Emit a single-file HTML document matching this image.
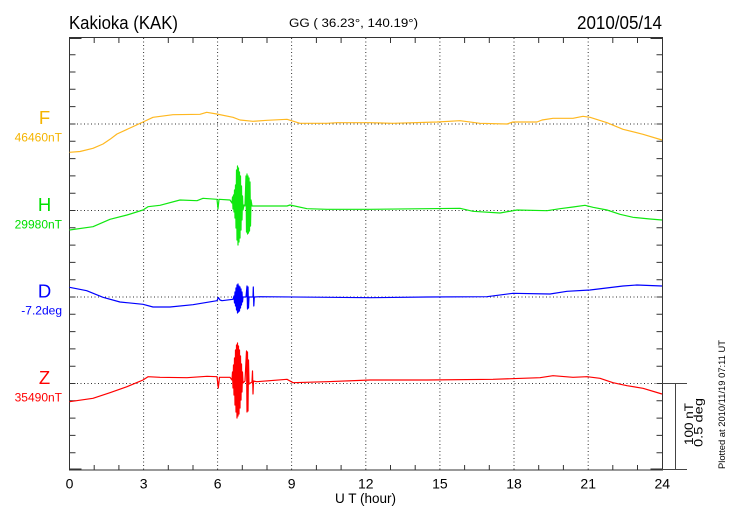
<!DOCTYPE html>
<html>
<head>
<meta charset="utf-8">
<style>
html,body{margin:0;padding:0;background:#fff;}
svg{display:block;}
text{font-family:"Liberation Sans",Arial,sans-serif;}
</style>
</head>
<body>
<svg width="730" height="520" viewBox="0 0 730 520" xmlns="http://www.w3.org/2000/svg">
<rect width="730" height="520" fill="#fff"/>

<!-- Titles -->
<text x="69" y="29" font-size="18" textLength="109" lengthAdjust="spacingAndGlyphs" fill="#000">Kakioka (KAK)</text>
<text x="289" y="27" font-size="11.5" textLength="129" lengthAdjust="spacingAndGlyphs" fill="#000">GG ( 36.23°, 140.19°)</text>
<text x="577" y="29" font-size="18" textLength="85" lengthAdjust="spacingAndGlyphs" fill="#000">2010/05/14</text>

<!-- Vertical dotted grid -->
<g stroke="#333" stroke-width="1" stroke-dasharray="1,2.5">
<line x1="143.6" y1="38" x2="143.6" y2="470"/>
<line x1="217.6" y1="38" x2="217.6" y2="470"/>
<line x1="291.6" y1="38" x2="291.6" y2="470"/>
<line x1="365.8" y1="38" x2="365.8" y2="470"/>
<line x1="439.9" y1="38" x2="439.9" y2="470"/>
<line x1="514.0" y1="38" x2="514.0" y2="470"/>
<line x1="588.2" y1="38" x2="588.2" y2="470"/>
</g>
<!-- Horizontal dotted baselines -->
<g stroke="#333" stroke-width="1" stroke-dasharray="1,2.5">
<line x1="70" y1="124" x2="662" y2="124"/>
<line x1="70" y1="210.5" x2="662" y2="210.5"/>
<line x1="70" y1="297" x2="662" y2="297"/>
<line x1="70" y1="383.5" x2="662" y2="383.5"/>
</g>

<!-- Axes frame -->
<g stroke="#333" stroke-width="1" fill="none">
<rect x="69.5" y="37.5" width="593" height="432.5"/>
<line x1="69.5" y1="38" x2="81.5" y2="38" stroke-width="2"/>
<line x1="650.5" y1="38" x2="662.5" y2="38" stroke-width="2"/>
<line x1="69.5" y1="469.5" x2="81.5" y2="469.5" stroke-width="2"/>
<line x1="650.5" y1="469.5" x2="662.5" y2="469.5" stroke-width="2"/>
</g>

<!-- Y ticks left & right -->
<g stroke="#333" stroke-width="1">
<path d="M69.5 54.7h6M69.5 72h6M69.5 89.3h6M69.5 106.6h6M69.5 124h6M69.5 141.3h6M69.5 158.6h6M69.5 175.9h6M69.5 193.2h6M69.5 210.5h6M69.5 227.8h6M69.5 245.1h6M69.5 262.4h6M69.5 279.7h6M69.5 297h6M69.5 314.3h6M69.5 331.6h6M69.5 348.9h6M69.5 366.2h6M69.5 383.5h6M69.5 400.8h6M69.5 418.1h6M69.5 435.4h6M69.5 452.7h6"/>
<path d="M662.5 54.7h-6M662.5 72h-6M662.5 89.3h-6M662.5 106.6h-6M662.5 124h-6M662.5 141.3h-6M662.5 158.6h-6M662.5 175.9h-6M662.5 193.2h-6M662.5 210.5h-6M662.5 227.8h-6M662.5 245.1h-6M662.5 262.4h-6M662.5 279.7h-6M662.5 297h-6M662.5 314.3h-6M662.5 331.6h-6M662.5 348.9h-6M662.5 366.2h-6M662.5 383.5h-6M662.5 400.8h-6M662.5 418.1h-6M662.5 435.4h-6M662.5 452.7h-6"/>
<!-- X ticks top & bottom (hourly) -->
<path d="M94.2 38v5M118.9 38v5M168.3 38v5M193 38v5M242.3 38v5M267 38v5M316.4 38v5M341.1 38v5M390.5 38v5M415.2 38v5M464.6 38v5M489.3 38v5M538.7 38v5M563.4 38v5M612.8 38v5M637.5 38v5"/>
<path d="M94.2 470v-5M118.9 470v-5M168.3 470v-5M193 470v-5M242.3 470v-5M267 470v-5M316.4 470v-5M341.1 470v-5M390.5 470v-5M415.2 470v-5M464.6 470v-5M489.3 470v-5M538.7 470v-5M563.4 470v-5M612.8 470v-5M637.5 470v-5"/>
</g>

<!-- Scale bar -->
<g stroke="#444" stroke-width="1">
<line x1="662" y1="383.5" x2="687" y2="383.5"/>
<line x1="662" y1="469.5" x2="687" y2="469.5"/>
<line x1="675.5" y1="383.5" x2="675.5" y2="469.5"/>
</g>
<text transform="translate(692.8,445) rotate(-90)" font-size="11.5" textLength="42" lengthAdjust="spacingAndGlyphs" fill="#000">100 nT</text>
<text transform="translate(702.5,447) rotate(-90)" font-size="11.5" textLength="49" lengthAdjust="spacingAndGlyphs" fill="#000">0.5 deg</text>
<text transform="translate(725,469) rotate(-90)" font-size="9.5" textLength="129" lengthAdjust="spacingAndGlyphs" fill="#000">Plotted at 2010/11/19 07:11 UT</text>

<!-- X labels -->
<g font-size="14" fill="#000" text-anchor="middle">
<text x="69.5" y="488.5">0</text>
<text x="143.6" y="488.5">3</text>
<text x="217.6" y="488.5">6</text>
<text x="291.6" y="488.5">9</text>
<text x="365.8" y="488.5">12</text>
<text x="439.9" y="488.5">15</text>
<text x="514" y="488.5">18</text>
<text x="588.2" y="488.5">21</text>
<text x="662.3" y="488.5">24</text>
</g>
<text x="365.5" y="503" font-size="13.5" text-anchor="middle" fill="#000">U T (hour)</text>

<!-- Left labels -->
<g text-anchor="middle" font-size="18.5">
<text x="44.5" y="124" fill="#F5B400">F</text>
<text x="44.5" y="211" fill="#00E000">H</text>
<text x="44.5" y="297.3" fill="#0000FF">D</text>
<text x="44.5" y="384" fill="#FF0000">Z</text>
</g>
<g text-anchor="end" font-size="12">
<text x="62" y="141.7" fill="#F5B400">46460nT</text>
<text x="62" y="228.3" fill="#00E000">29980nT</text>
<text x="62" y="314.5" fill="#0000FF">-7.2deg</text>
<text x="62" y="401.7" fill="#FF0000">35490nT</text>
</g>

<!-- Series -->
<g fill="none" stroke-width="1.2" stroke-linejoin="round">
<polyline stroke="#FFB820" points="69.5,152.3 80,151.5 93,148.3 103,144 110,139.3 117,134 130,128 143,122 153,117.3 173,114.7 200,114.3 206.7,112.3 216.7,114 233,117.3 240,120 253,121.3 267,120.3 287,119.3 300,123.3 327,123.3 337,122.7 370,122.7 393,123.3 437,122 460,120.7 480,123.3 507,124 513,122 537,122 542,120 553,118.3 573,118.3 583,116.3 590,117.3 607,122.7 623,129.3 643,134.3 662,140"/>
<polyline stroke="#10E810" points="69.5,230 93,226.7 110,219.3 127,215 143,210 148,206.7 160,205.3 180,200 197,200.7 203,198.3 217,199.3 218,209 219,199.3 230,200 232,203 232.5,197 233,209 233.5,195 234,212 234.5,190 235,218 235.5,185 236,228 236.5,170 237,240 237.5,166 238,245 238.5,168 239,242 239.5,172 240,238 240.5,176 241,230 241.5,186 242,220 242.5,196 243,210 244,205 245,206 246,176 246.5,232 247,174 247.5,234 248,176 248.5,233 249,178 249.5,231 250,182 250.5,226 251,200 252,206 253,206 287,206 290,205 307,208.7 327,209.3 370,209.3 460,208.3 473,211.3 500,213 517,210 547,210.7 560,208.7 573,207 585,205.3 593,207.3 607,210 620,214.3 633,217.3 650,219 662,220"/>
<polyline stroke="#0000FF" points="69.5,287.3 86.7,290.7 103,297.3 120,302 143,304.3 153,307 170,307 193,304.7 217,300.7 218.3,297.5 220,300 222,300.7 233,299.3 234,296 234.5,303 235,292 235.5,306 236,288 236.5,310 237,285 237.5,313 238,284 238.5,312 239,286 239.5,311 240,287 240.5,308 241,289 241.5,305 242,292 242.5,302 243,297 246,297 247,286 247.5,309 248,287 248.5,308 249,297 253,297 253.3,287 253.8,306 254.3,297 260,296.7 370,297.7 427,297 487,296.7 513,293.3 550,294 567,291.3 590,290 623,286 637,285 662,286"/>
<polyline stroke="#FF0000" points="69.5,401.7 93,398.3 110,392.7 127,386.7 143,380 148,376.7 160,377.3 187,377.7 207,376.3 217,376.7 218.3,388 219.5,377.3 230,377.3 232,380 232.5,372 233,388 233.5,365 234,395 234.5,358 235,405 235.5,350 236,412 236.5,345 237,418 237.5,343 238,416 238.5,346 239,414 239.5,350 240,408 240.5,356 241,400 241.5,364 242,392 242.5,372 243,383 245,381 246.5,351 247,412 247.5,352 248,411 248.5,360 249,384 252,382 252.5,371 253,394 253.5,381 256.7,381.7 287,379.3 293,382.7 327,381.7 370,380 427,380 493,379.3 540,377.7 553,375.7 573,377.3 587,376.7 600,378.3 613,382.7 627,385.7 643,388.3 662,394"/>
</g>
</svg>
</body>
</html>
